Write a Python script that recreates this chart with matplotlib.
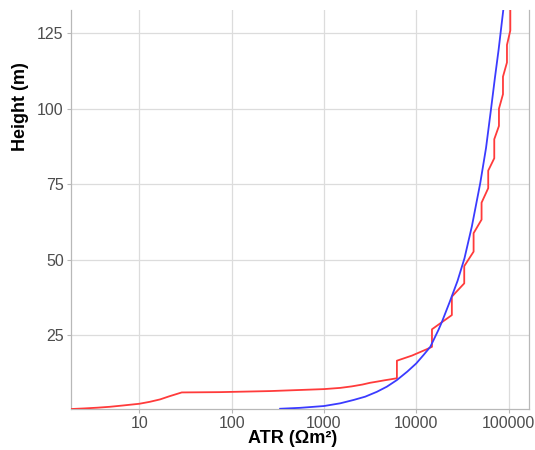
import matplotlib
matplotlib.use("Agg")
import matplotlib.pyplot as plt

plt.rcParams['font.family'] = ['Liberation Sans', 'DejaVu Sans']

red_atr = [1.8, 2.5, 3.5, 4.8, 6.5, 10, 13, 16.8, 21, 28.8, 75, 261, 1000,
           1500, 2000, 2600, 3170, 3800, 4500, 5300, 6170, 6170, 9000, 13000,
           14800,
           14800, 24300, 24300, 33100, 33100, 41800, 41800, 51000, 51000, 60200,
           60200, 70000, 70000, 78700, 78700, 87000, 87000, 96100, 96100,
           104500, 104500]
red_h = [0.6, 0.8, 1.05, 1.35, 1.75, 2.35, 3.0, 3.8, 4.8, 6.1, 6.2, 6.55, 7.2,
         7.6, 8.1, 8.7, 9.3, 9.7, 10.1, 10.45, 10.8, 16.6, 18.3, 20.4,
         21.2,
         27.0, 31.7, 37.8, 42.2, 47.9, 52.7, 58.8, 63.3, 68.9, 73.7,
         79.5, 83.6, 89.9, 94.3, 100.0, 104.8, 110.6, 115.3, 121.1,
         125.9, 140.0]

blue_atr = [335, 550, 1000, 1500, 2090, 2800, 3740, 4800, 6170, 8000, 10000,
            12000, 14200, 17400, 19000, 23000, 28000, 33300, 40000, 49300,
            57000, 64400, 71000, 78000, 87700]
blue_h = [0.7, 1.0, 1.6, 2.5, 3.6, 4.7, 6.3, 8.0, 10.2, 13.0, 15.7,
          18.5, 21.2, 26.8, 29.5, 36.0, 43.0, 50.5, 61.0, 75.3,
          87.0, 99.6, 110.0, 119.5, 132.7]

xticks = [10, 100, 1000, 10000, 100000]
xtick_labels = ["10", "100", "1000", "10000", "100000"]
yticks = [25, 50, 75, 100, 125]

fig = plt.figure(figsize=(5.35, 4.5), dpi=100)
ax = fig.add_axes([0.132, 0.091, 0.857, 0.887])

ax.plot(red_atr, red_h, color='#ff3b3b', lw=1.3, zorder=3)
ax.plot(blue_atr, blue_h, color='#3b3bff', lw=1.3, zorder=3)

ax.set_xscale('log')
ax.set_xlim(1.8, 167000)
ax.set_ylim(0.6, 132.7)
ax.set_xticks(xticks)
ax.set_xticklabels(xtick_labels)
ax.minorticks_off()
ax.set_yticks(yticks)

ax.grid(True, color='#dcdcdc', lw=0.9)
ax.set_axisbelow(True)
for side in ['left', 'bottom', 'right']:
    ax.spines[side].set_color('#b8b8b8')
    ax.spines[side].set_linewidth(0.9)
ax.spines['top'].set_visible(False)

ax.tick_params(axis='both', labelsize=11.5, labelcolor='#4d4d4d',
               color='#b8b8b8', length=3, width=0.8, pad=2)

ax.set_xlabel('ATR (Ωm²)', fontsize=13, fontweight='bold', va='center')
ax.xaxis.set_label_coords(0.484, -0.073)
ax.set_ylabel('Height (m)', fontsize=13, fontweight='bold', va='center')
ax.yaxis.set_label_coords(-0.109, 0.757)

fig.savefig('out.png', dpi=100)
